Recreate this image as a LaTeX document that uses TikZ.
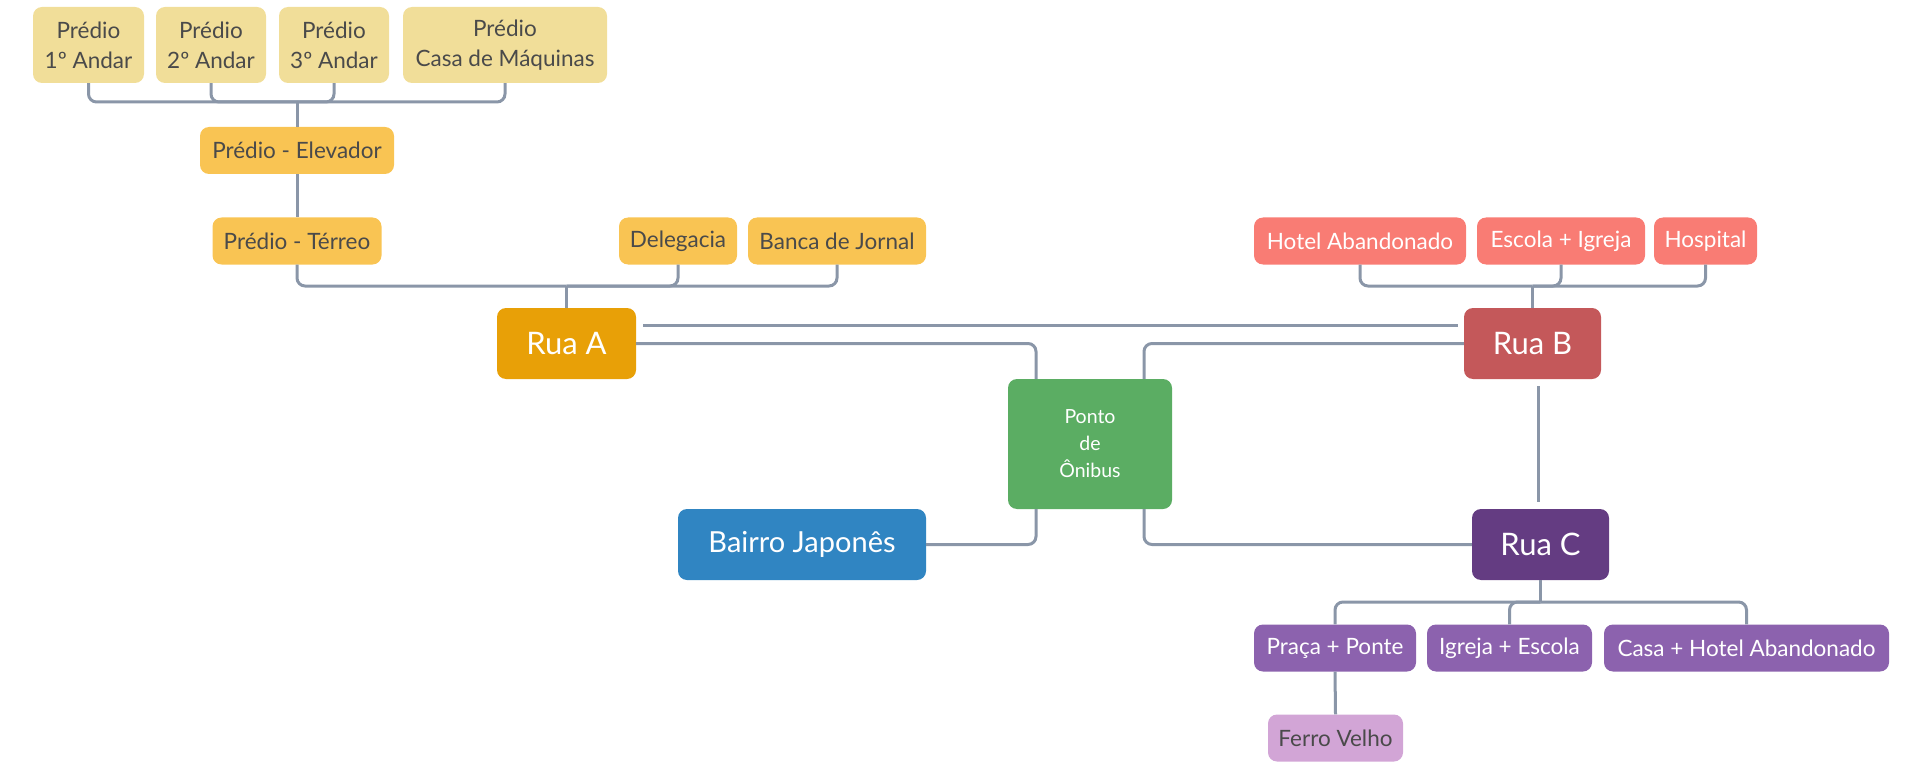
\documentclass[tikz,border=0pt]{standalone}
\usepackage{fontspec}
\setmainfont{Lato}
\definecolor{ylight}{HTML}{F1DE99}
\definecolor{yorange}{HTML}{F9C453}
\definecolor{ruaAc}{HTML}{E8A007}
\definecolor{salmon}{HTML}{F97C74}
\definecolor{ruaBc}{HTML}{C4585A}
\definecolor{pontoc}{HTML}{5BAD63}
\definecolor{bairroc}{HTML}{3085C2}
\definecolor{ruaCc}{HTML}{643C82}
\definecolor{purp}{HTML}{8C62AE}
\definecolor{lpurp}{HTML}{D2A5D6}
\definecolor{connc}{HTML}{8A96A8}
\definecolor{txtdark}{HTML}{4A4A4A}
\tikzset{
  box/.style={rounded corners=9pt, draw=none, align=center, inner sep=0pt, font=\fontsize{22.5}{30}\selectfont, text=txtdark},
  smallbox/.style={box, minimum height=47pt},
  bigbox/.style={box, minimum height=71pt, text=white, font=\fontsize{31}{36}\selectfont},
  conn/.style={draw=connc, line width=3pt, rounded corners=8pt}
}
\begin{document}
\begin{tikzpicture}[x=1pt,y=-1pt]
\useasboundingbox (0,0) rectangle (1911,762);
% top building floors
\node[box, fill=ylight, minimum width=111pt, minimum height=76pt] (p1) at (88.5,45) {Prédio\\1º Andar};
\node[box, fill=ylight, minimum width=110pt, minimum height=76pt] (p2) at (211,45) {Prédio\\2º Andar};
\node[box, fill=ylight, minimum width=110pt, minimum height=76pt] (p3) at (334,45) {Prédio\\3º Andar};
\node[box, fill=ylight, minimum width=204pt, minimum height=76pt] (p4) at (505,45) {Prédio\\Casa de Máquinas};
\node[smallbox, fill=yorange, minimum width=194pt] (elev) at (297,150.5) {Prédio - Elevador};
\node[smallbox, fill=yorange, minimum width=169pt] (terreo) at (297,241) {Prédio - Térreo};
\node[smallbox, fill=yorange, minimum width=118pt] (deleg) at (678,241) {Delegacia};
\node[smallbox, fill=yorange, minimum width=178pt] (banca) at (837,241) {Banca de Jornal};
\node[bigbox, fill=ruaAc, minimum width=139pt] (ruaA) at (566.5,343.5) {Rua A};
% Rua B group
\node[smallbox, fill=salmon, text=white, minimum width=212pt] (hotel) at (1360,241) {Hotel Abandonado};
\node[smallbox, fill=salmon, text=white, minimum width=168pt] (escola) at (1561,241) {Escola + Igreja};
\node[smallbox, fill=salmon, text=white, minimum width=103pt] (hosp) at (1705.5,241) {Hospital};
\node[bigbox, fill=ruaBc, minimum width=137pt] (ruaB) at (1532.5,343.5) {Rua B};
% centre
\node[box, fill=pontoc, text=white, minimum width=164pt, minimum height=130pt, font=\fontsize{19.5}{27}\selectfont] (ponto) at (1090,444) {Ponto\\de\\Ônibus};
\node[bigbox, fill=bairroc, minimum width=248pt, font=\fontsize{29}{34}\selectfont] (bairro) at (802,544.5) {Bairro Japonês};
\node[bigbox, fill=ruaCc, minimum width=137pt] (ruaC) at (1540.5,544.5) {Rua C};
% Rua C group
\node[smallbox, fill=purp, text=white, minimum width=162pt] (praca) at (1335,648) {Praça + Ponte};
\node[smallbox, fill=purp, text=white, minimum width=165pt] (igreja) at (1509.5,648) {Igreja + Escola};
\node[smallbox, fill=purp, text=white, minimum width=285pt] (casa) at (1746.5,648) {Casa + Hotel Abandonado};
\node[smallbox, fill=lpurp, minimum width=135pt] (ferro) at (1335.5,738) {Ferro Velho};
% connectors
\coordinate (busT) at (297,102);
\foreach \n in {p1,p2,p3,p4} \draw[conn] (\n.south) |- (busT);
\draw[conn] (busT) -- (elev.north);
\draw[conn] (elev.south) -- (terreo.north);
\coordinate (busA) at (566.5,286);
\foreach \n in {terreo,deleg,banca} \draw[conn] (\n.south) |- (busA);
\draw[conn] (busA) -- (ruaA.north);
\coordinate (busB) at (1532.5,286);
\foreach \n in {hotel,escola,hosp} \draw[conn] (\n.south) |- (busB);
\draw[conn] (busB) -- (ruaB.north);
\draw[conn] ([xshift=7pt,yshift=18.5pt]ruaA.east) -- ([xshift=-6pt,yshift=18.5pt]ruaB.west);
\draw[conn] (ruaA.east) -| ([xshift=-54pt]ponto.north);
\draw[conn] (ruaB.west) -| ([xshift=54pt]ponto.north);
\draw[conn] (bairro.east) -| ([xshift=-54pt]ponto.south);
\draw[conn] (ruaC.west) -| ([xshift=54pt]ponto.south);
\coordinate (bc1) at ([xshift=5.5pt,yshift=-7pt]ruaB.south);
\coordinate (bc2) at ([yshift=7pt]ruaC.north);
\draw[conn] (bc1) -- (bc1 |- bc2);
\coordinate (busC) at (1540.5,602);
\draw[conn] (ruaC.south) -- (busC);
\foreach \n in {praca,igreja,casa} \draw[conn] (\n.north) |- (busC);
\draw[conn] (praca.south) -- (ferro.north);
\end{tikzpicture}
\end{document}
